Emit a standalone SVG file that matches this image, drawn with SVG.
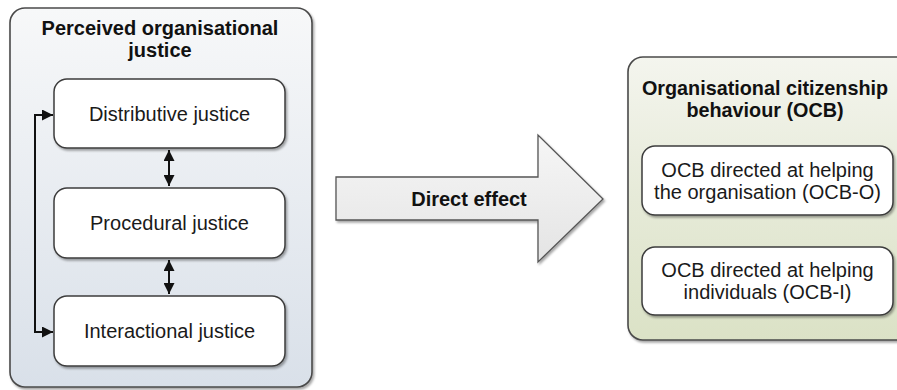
<svg xmlns="http://www.w3.org/2000/svg" width="897" height="390" viewBox="0 0 897 390">
  <style>
    .container { stroke: #4a4a4a; stroke-width: 1.6; }
    .box { fill: #ffffff; stroke: #3c3c3c; stroke-width: 1.5; filter: url(#shadow); }
    .title { font-family: "Liberation Sans", Arial, sans-serif; font-weight: bold; fill: #111; text-anchor: middle; }
    .label { font-family: "Liberation Sans", Arial, sans-serif; font-size: 20px; fill: #1a1a1a; text-anchor: middle; }
    .link { fill: none; stroke: #111; stroke-width: 2; }
  </style>
  <defs>
    <linearGradient id="blueFill" x1="0" y1="0" x2="0" y2="1">
      <stop offset="0" stop-color="#f7f8f9"/>
      <stop offset="0.5" stop-color="#e8ecf1"/>
      <stop offset="1" stop-color="#d9e0e9"/>
    </linearGradient>
    <linearGradient id="greenFill" x1="0" y1="0" x2="0" y2="1">
      <stop offset="0" stop-color="#f4f5ee"/>
      <stop offset="0.5" stop-color="#e6ead8"/>
      <stop offset="1" stop-color="#dbe2c6"/>
    </linearGradient>
    <linearGradient id="arrowFill" x1="0" y1="0" x2="0" y2="1">
      <stop offset="0" stop-color="#f6f6f6"/>
      <stop offset="1" stop-color="#e4e4e4"/>
    </linearGradient>
    <filter id="shadow" x="-10%" y="-10%" width="125%" height="130%">
      <feDropShadow dx="1.5" dy="2" stdDeviation="1.2" flood-color="#000" flood-opacity="0.35"/>
    </filter>
    <marker id="head" viewBox="0 0 10 10" refX="10" refY="5" markerWidth="5.5" markerHeight="5.5" orient="auto-start-reverse" markerUnits="strokeWidth">
      <path d="M0,0 L10,5 L0,10 Z" fill="#111"/>
    </marker>
  </defs>

  <!-- Perceived organisational justice -->
  <g id="justice">
    <rect class="container" x="10" y="8" width="302" height="379" rx="15" fill="url(#blueFill)" filter="url(#shadow)"/>
    <text class="title" font-size="20" x="160" y="35">Perceived organisational</text>
    <text class="title" font-size="20" x="160" y="57">justice</text>
  </g>
  <g id="distributive">
    <rect class="box" x="54" y="79" width="231" height="69" rx="13"/>
    <text class="label" x="169.5" y="121">Distributive justice</text>
  </g>
  <g id="procedural">
    <rect class="box" x="54" y="188" width="231" height="70" rx="13"/>
    <text class="label" x="169.5" y="229.5">Procedural justice</text>
  </g>
  <g id="interactional">
    <rect class="box" x="54" y="296" width="231" height="70" rx="13"/>
    <text class="label" x="169.5" y="338">Interactional justice</text>
  </g>

  <!-- Direct effect arrow -->
  <g id="direct-effect">
    <polygon points="336,177 538,177 538,135 603,199 538,262 538,220 336,220" fill="url(#arrowFill)" stroke="#555" stroke-width="1.3" filter="url(#shadow)"/>
    <text class="title" font-size="20" x="469" y="206">Direct effect</text>
  </g>

  <!-- Organisational citizenship behaviour -->
  <g id="ocb">
    <rect class="container" x="628" y="57" width="300" height="283" rx="15" fill="url(#greenFill)" filter="url(#shadow)"/>
    <text class="title" font-size="19.8" x="765" y="95">Organisational citizenship</text>
    <text class="title" font-size="19.8" x="765" y="117">behaviour (OCB)</text>
  </g>
  <g id="ocb-o">
    <rect class="box" x="642" y="146" width="251" height="69" rx="13"/>
    <text class="label" x="767.5" y="177">OCB directed at helping</text>
    <text class="label" x="767.5" y="198.5">the organisation (OCB-O)</text>
  </g>
  <g id="ocb-i">
    <rect class="box" x="642" y="247" width="251" height="68" rx="13"/>
    <text class="label" x="767.5" y="277">OCB directed at helping</text>
    <text class="label" x="767.5" y="298.5">individuals (OCB-I)</text>
  </g>

  <!-- Connectors -->
  <g id="connectors">
    <line class="link" x1="169" y1="150" x2="169" y2="186" marker-start="url(#head)" marker-end="url(#head)"/>
    <line class="link" x1="169" y1="260" x2="169" y2="294" marker-start="url(#head)" marker-end="url(#head)"/>
    <polyline class="link" points="53,115 35,115 35,332 53,332" marker-start="url(#head)" marker-end="url(#head)"/>
  </g>
</svg>
